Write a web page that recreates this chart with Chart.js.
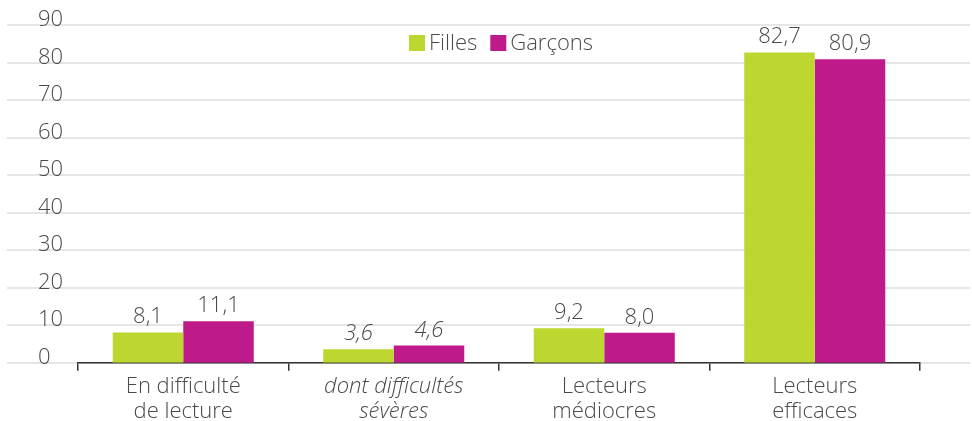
<!DOCTYPE html>
<html>
<head>
<meta charset="utf-8">
<script src="https://cdn.jsdelivr.net/npm/chart.js@4"></script>
<style>
	html, body { margin: 0; padding: 0; background: #fff; }
	#wrap { width: 972px; height: 421px; }
</style>
</head>
<body>
<div id="wrap"><canvas id="myChart"></canvas></div>
<script>
const categories = [['En difficulté', 'de lecture'], ['dont difficultés', 'sévères'], ['Lecteurs', 'médiocres'], ['Lecteurs', 'efficaces']];
const italicCats = [false, true, false, false];
const filles = [8.1, 3.6, 9.2, 82.7];
const garcons = [11.1, 4.6, 8.0, 80.9];
const yTicks = [0, 10, 20, 30, 40, 50, 60, 70, 80, 90];
const seriesNames = ['Filles', 'Garçons'];
const seriesColors = ['#bdd630', '#be1a8a'];

const FONT = '"Open Sans", Roboto, sans-serif';
const TEXT = '#4a4a4a';
const FS = 22;

const fmt = (v) => v.toFixed(1).replace('.', ',');

const decor = {
	id: 'decor',
	beforeDraw(chart) {
		const c = chart.ctx;
		const y = chart.scales.y;
		c.save();
		c.strokeStyle = '#e6e6e6';
		c.lineWidth = 2;
		c.font = '300 ' + FS + 'px ' + FONT;
		c.fillStyle = TEXT;
		c.textAlign = 'left';
		c.textBaseline = 'alphabetic';
		yTicks.forEach((t) => {
			const py = Math.round(y.getPixelForValue(t));
			c.beginPath();
			c.moveTo(7, py);
			c.lineTo(970, py);
			c.stroke();
		});
		yTicks.forEach((t) => {
			const py = Math.round(y.getPixelForValue(t));
			c.fillText(String(t), 38, py + 1);
		});
		// legend
		let lx = 409;
		const ly = 43;
		seriesNames.forEach((n, i) => {
			c.fillStyle = seriesColors[i];
			c.fillRect(lx, ly - 8, 16, 16);
			c.fillStyle = TEXT;
			c.textBaseline = 'middle';
			c.fillText(n, lx + 20, ly + 1);
			lx += 20 + c.measureText(n).width + 13;
		});
		c.restore();
	},
	afterDatasetsDraw(chart) {
		const c = chart.ctx;
		c.save();
		c.fillStyle = TEXT;
		c.textAlign = 'center';
		c.textBaseline = 'alphabetic';
		chart.data.datasets.forEach((ds, di) => {
			chart.getDatasetMeta(di).data.forEach((bar, i) => {
				c.font = (italicCats[i] ? 'italic ' : '') + '300 ' + FS + 'px ' + FONT;
				c.fillText(fmt(ds.data[i]), bar.x, bar.y - 9);
			});
		});
		c.restore();
	}
};

new Chart(document.getElementById('myChart'), {
	type: 'bar',
	data: {
		labels: categories,
		datasets: [
			{ label: seriesNames[0], data: filles, backgroundColor: seriesColors[0] },
			{ label: seriesNames[1], data: garcons, backgroundColor: seriesColors[1] },
		],
	},
	options: {
		responsive: true,
		maintainAspectRatio: false,
		animation: false,
		categoryPercentage: 0.67,
		barPercentage: 1.0,
		layout: { padding: { left: 78, right: 52, top: 25, bottom: -6 } },
		plugins: {
			legend: { display: false },
			tooltip: { enabled: false },
		},
		scales: {
			y: {
				display: false,
				min: 0,
				max: 90,
			},
			x: {
				grid: {
					offset: true,
					drawOnChartArea: false,
					drawTicks: true,
					tickLength: 8,
					color: '#333',
					lineWidth: 1.5,
				},
				border: { display: true, color: '#333', width: 1.5 },
				ticks: {
					color: TEXT,
					padding: 3,
					maxRotation: 0,
					font: (ctx) => ({
						family: FONT,
						size: FS,
						weight: 300,
						style: italicCats[ctx.index] ? 'italic' : 'normal',
						lineHeight: 1.14,
					}),
				},
			},
		},
	},
	plugins: [decor],
});
</script>
</body>
</html>
